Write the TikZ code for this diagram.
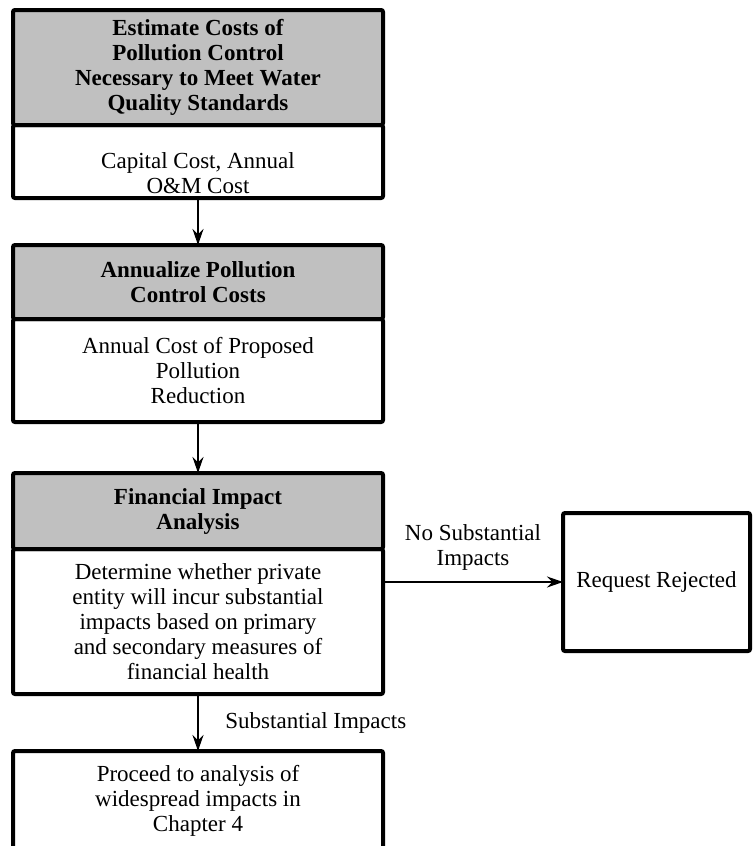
\documentclass[tikz,border=0pt]{standalone}
\usepackage{fontspec}
\setmainfont{Liberation Serif}
\usepackage{xcolor}
\usetikzlibrary{positioning,arrows.meta}
\definecolor{headgray}{RGB}{192,192,192}

\tikzset{
    box/.style={draw, line width=2pt, rounded corners=1pt, outer sep=0pt,
        minimum width=185pt, align=center},
    head/.style={box, fill=headgray, font=\fontsize{11.5}{12.5}\selectfont\bfseries},
    flow/.style={-{Stealth[length=8pt,width=5.5pt]}, line width=0.75pt},
}

\begin{document}
\begin{tikzpicture}[x=0.5pt, y=-0.5pt, font=\fontsize{11.5}{12.5}\selectfont]
    \useasboundingbox (0,0) rectangle (754,846);
    \clip (0,0) rectangle (754,846);
    % main column
    \node[head, minimum height=57.5pt] (estHead) at (198,67.5)
        {Estimate Costs of\\Pollution Control\\Necessary to Meet Water\\Quality Standards};
    \node[box, minimum height=36.5pt, inner ysep=0pt, text height=32pt, text depth=0pt,
        below=0pt of estHead] (estBody)
        {Capital Cost, Annual\\O\&M Cost};
    \node[head, minimum height=37pt] (annHead) at (198,282)
        {Annualize Pollution\\Control Costs};
    \node[box, minimum height=51.5pt, below=0pt of annHead] (annBody)
        {Annual Cost of Proposed\\Pollution\\Reduction};
    \node[head, minimum height=38pt] (finHead) at (198,511)
        {Financial Impact\\Analysis};
    \node[box, minimum height=72.5pt, below=0pt of finHead] (finBody)
        {Determine whether private\\entity will incur substantial\\impacts based on primary\\and secondary measures of\\financial health};
    \node[box, minimum height=50pt, anchor=north] (procBody) at (198,751)
        {Proceed to analysis of\\widespread impacts in\\Chapter 4};
    % side branch
    \node[box, minimum width=93.5pt, minimum height=69pt] (rejBox) at (656.5,582)
        {Request Rejected};
    % connectors
    \draw[flow] (estBody) -- (annHead);
    \draw[flow] (annBody) -- (finHead);
    \draw[flow] (finBody) -- node[right=10pt] {Substantial Impacts} (procBody);
    \draw[flow] (finBody.east |- rejBox.west) -- node[above=2pt, align=center]
        {No Substantial\\Impacts} (rejBox.west);
\end{tikzpicture}
\end{document}
